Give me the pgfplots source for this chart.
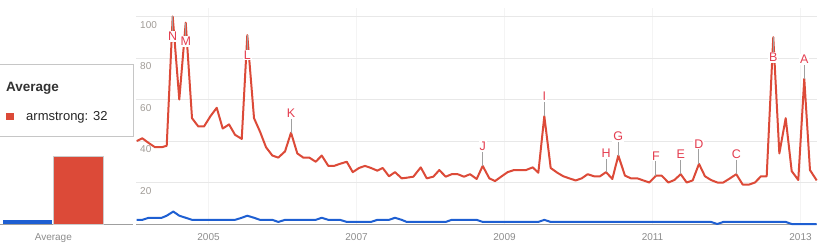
\documentclass[border=0pt]{standalone}
\usepackage{pgfplots}
\pgfplotsset{compat=1.18}
\usepackage{fontspec}
\setmainfont{Liberation Sans}
\definecolor{tred}{RGB}{220,74,56}
\definecolor{tblue}{RGB}{30,95,210}
\definecolor{tgrid}{RGB}{232,232,232}
\definecolor{tvgrid}{RGB}{244,244,244}
\definecolor{tlab}{RGB}{140,140,140}
\definecolor{tylab}{RGB}{160,155,150}
\definecolor{tletter}{RGB}{228,62,80}
\definecolor{tstem}{RGB}{160,160,160}

\pgfplotstableread{
x v
2004.030 40
2004.105 41.3
2004.193 39
2004.277 37
2004.368 37
2004.435 37.7
2004.516 100
2004.605 60
2004.692 97
2004.777 51
2004.862 47
2004.939 47
2005.027 52
2005.111 56
2005.192 46
2005.277 48
2005.358 43
2005.449 41
2005.524 91
2005.615 51
2005.696 44.5
2005.777 37
2005.862 33
2005.943 32
2006.034 35
2006.115 44
2006.200 34
2006.281 32
2006.362 32
2006.449 30
2006.530 33
2006.619 28
2006.696 28
2006.777 29
2006.868 30
2006.949 25
2007.034 27
2007.115 28
2007.196 27
2007.281 25.7
2007.354 27
2007.439 23
2007.520 25
2007.611 22
2007.678 22.3
2007.768 22.8
2007.868 27.3
2007.949 22
2008.038 22.8
2008.119 26
2008.205 22.8
2008.286 24
2008.368 24
2008.453 22.8
2008.534 24
2008.624 21.7
2008.705 28
2008.795 22
2008.872 20.7
2008.962 23
2009.043 25
2009.128 26
2009.209 26
2009.291 26
2009.381 27.3
2009.457 24.7
2009.538 52
2009.624 27
2009.714 24.7
2009.795 23
2009.876 22
2009.962 21
2010.043 22
2010.124 24
2010.209 23
2010.291 23
2010.372 25
2010.457 21.7
2010.538 33
2010.628 23.3
2010.709 22
2010.795 22
2010.876 21
2010.957 20
2011.047 23.3
2011.124 23.3
2011.214 20
2011.295 21.2
2011.381 24
2011.462 20
2011.543 21
2011.628 29
2011.709 23
2011.791 21.2
2011.876 20
2011.957 20
2012.047 22
2012.132 24
2012.219 19
2012.304 19
2012.385 20
2012.466 23
2012.543 23
2012.632 90
2012.714 34
2012.800 51
2012.881 25.5
2012.970 21.2
2013.051 70
2013.128 26
2013.219 21
}\redtable

\pgfplotstableread{
x v
2004.030 2
2004.105 2
2004.193 3
2004.368 3
2004.435 4
2004.524 6
2004.605 4
2004.692 3
2004.777 2
2005.358 2
2005.449 3
2005.524 4
2005.615 3
2005.696 2
2005.862 2
2005.943 1
2006.034 2
2006.449 2
2006.530 3
2006.619 2
2006.777 2
2006.868 1
2007.196 1
2007.281 2
2007.439 2
2007.520 3
2007.611 2
2007.678 1
2008.205 1
2008.286 2
2008.624 2
2008.705 1
2009.457 1
2009.538 2
2009.624 1
2011.791 1
2011.876 0
2011.957 1
2012.800 1
2012.881 0
2013.219 0
}\bluetable

\begin{document}
\begin{tikzpicture}[x=1pt,y=1pt]
\useasboundingbox (0,0) rectangle (829,244);

% ---- average bars ----
\begin{axis}[
  at={(0pt,20pt)}, anchor=south west,
  scale only axis, width=133pt, height=215.8pt,
  xmin=0, xmax=133, ymin=0, ymax=104,
  axis x line*=bottom, axis y line*=left,
  y axis line style={draw=none},
  x axis line style={draw=gray!75, line width=1pt, -},
  xtick={53.3}, xticklabels={Average},
  ytick=\empty,
  major tick length=0pt,
  xticklabel style={font=\fontsize{10}{11}\selectfont, text=tlab, inner sep=0pt, yshift=-9.3pt},
  clip=false,
]
\addplot[ybar, bar width=49pt, bar shift=0pt, fill=tblue, draw=none] coordinates {(27.5,2)};
\addplot[ybar, bar width=50pt, bar shift=0pt, fill=tred, draw=gray!40, line width=0.8pt] coordinates {(78.3,32.5)};
\end{axis}

% ---- main time series ----
\begin{axis}[
  at={(136pt,20pt)}, anchor=south west,
  scale only axis, width=681pt, height=215.8pt,
  xmin=2004.02, xmax=2013.223, ymin=0, ymax=104,
  axis x line*=bottom, axis y line*=left,
  y axis line style={draw=none},
  x axis line style={draw=gray!75, line width=1pt, -},
  xtick={2005,2007,2009,2011,2013}, xticklabels={2005,2007,2009,2011,2013},
  ytick={20,40,60,80,100}, yticklabels={20,40,60,80,100},
  major tick length=0pt,
  xmajorgrids, ymajorgrids,
  every axis x grid/.append style={draw=tvgrid, line width=0.8pt},
  every axis y grid/.append style={draw=tgrid, line width=1pt},
  xticklabel style={font=\fontsize{10}{11}\selectfont, text=tlab, inner sep=0pt, yshift=-9.3pt},
  yticklabel style={font=\fontsize{10}{11}\selectfont, text=tylab, inner sep=0pt, anchor=north west, xshift=4pt, yshift=-4.7pt},
  clip=false,
]
\addplot[tblue, line width=2pt, line join=round] table[x=x, y=v] {\bluetable};
\addplot[tred, line width=2pt, line join=round] table[x=x, y=v] {\redtable};

% annotation stems
\addplot[tstem, line width=1pt] coordinates {(2004.516,100) (2004.516,93)};
\addplot[tstem, line width=1pt] coordinates {(2004.692,97) (2004.692,90.5)};
\addplot[tstem, line width=1pt] coordinates {(2005.524,91) (2005.524,84)};
\addplot[tstem, line width=1pt] coordinates {(2006.115,44) (2006.115,50.5)};
\addplot[tstem, line width=1pt] coordinates {(2008.705,28) (2008.705,34.5)};
\addplot[tstem, line width=1pt] coordinates {(2009.538,52) (2009.538,58.7)};
\addplot[tstem, line width=1pt] coordinates {(2010.372,25) (2010.372,31.6)};
\addplot[tstem, line width=1pt] coordinates {(2010.538,33) (2010.538,39.8)};
\addplot[tstem, line width=1pt] coordinates {(2011.047,23.3) (2011.047,30.8)};
\addplot[tstem, line width=1pt] coordinates {(2011.381,24) (2011.381,31.3)};
\addplot[tstem, line width=1pt] coordinates {(2011.628,29) (2011.628,36.1)};
\addplot[tstem, line width=1pt] coordinates {(2012.132,24) (2012.132,31.2)};
\addplot[tstem, line width=1pt] coordinates {(2012.632,90) (2012.632,83)};
\addplot[tstem, line width=1pt] coordinates {(2013.051,70) (2013.051,76.7)};

\coordinate (lN) at (axis cs:2004.516,90.5);
\coordinate (lM) at (axis cs:2004.692,88);
\coordinate (lL) at (axis cs:2005.524,81.4);
\coordinate (lK) at (axis cs:2006.115,53.3);
\coordinate (lJ) at (axis cs:2008.705,37.3);
\coordinate (lI) at (axis cs:2009.538,61.5);
\coordinate (lH) at (axis cs:2010.372,34.1);
\coordinate (lG) at (axis cs:2010.538,42.3);
\coordinate (lF) at (axis cs:2011.047,32.9);
\coordinate (lE) at (axis cs:2011.381,33.5);
\coordinate (lD) at (axis cs:2011.628,38.5);
\coordinate (lC) at (axis cs:2012.132,33.4);
\coordinate (lB) at (axis cs:2012.632,80.3);
\coordinate (lA) at (axis cs:2013.051,79.2);
\end{axis}

\tikzset{lett/.style={font=\fontsize{12.5}{13}\selectfont, text=tletter, inner sep=1pt, fill=white}}
\foreach \L in {N,M,L,K,J,I,H,G,F,E,D,C,B,A} {\node[lett] at (l\L) {\L};}

% ---- legend box ----
\draw[gray!45, line width=0.8pt, fill=white] (-1,108) rectangle (133.3,179.7);
\node[anchor=base west, inner sep=0pt, font=\fontsize{13.5}{14}\selectfont\bfseries, text=black!80] at (6,153) {Average};
\node[anchor=base west, inner sep=0pt, font=\fontsize{13}{14}\selectfont, text=black!85] at (26,123.3) {armstrong: 32};
\node[anchor=south west, inner sep=0pt] at (6,124) {\textcolor{tred}{\rule{7.3pt}{6.7pt}}};
\end{tikzpicture}
\end{document}
